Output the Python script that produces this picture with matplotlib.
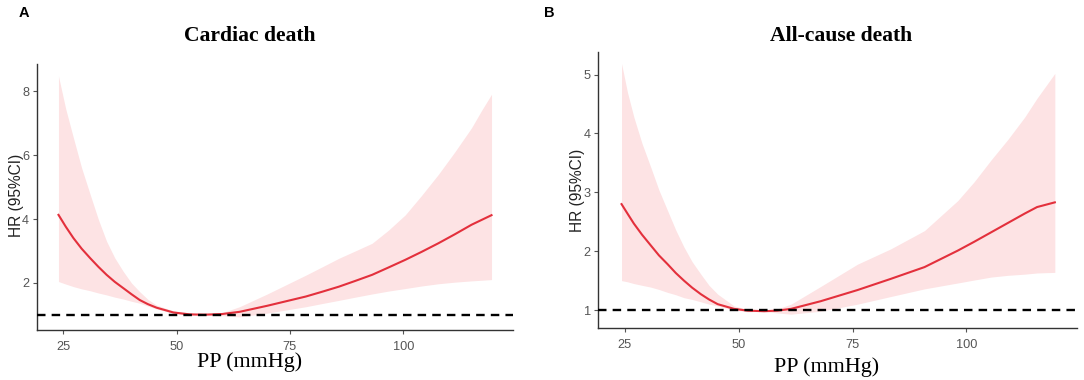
import matplotlib
matplotlib.use("Agg")
import matplotlib.pyplot as plt

# ---- Panel A: Cardiac death ----
pp_a = [24.0, 25.6, 27.3, 29.1, 31.0, 32.8, 34.6, 36.4, 38.3, 40.1, 41.9, 43.7,
        45.6, 49.3, 52.9, 56.0, 60.0, 63.9, 70.0, 78.5, 82.1, 85.8, 89.4, 93.1,
        96.7, 100.4, 104.0, 107.7, 111.3, 115.0, 117.2, 119.4]
hr_a = [4.13, 3.76, 3.40, 3.07, 2.77, 2.50, 2.25, 2.03, 1.83, 1.64, 1.46, 1.33,
        1.22, 1.07, 1.01, 1.00, 1.02, 1.09, 1.28, 1.57, 1.72, 1.88, 2.06, 2.25,
        2.48, 2.72, 2.97, 3.24, 3.52, 3.82, 3.97, 4.12]
lo_a = [2.04, 1.96, 1.88, 1.81, 1.75, 1.68, 1.62, 1.55, 1.49, 1.42, 1.36, 1.27,
        1.18, 1.04, 0.99, 1.00, 0.97, 0.93, 1.05, 1.25, 1.35, 1.45, 1.55, 1.65,
        1.74, 1.82, 1.90, 1.97, 2.02, 2.06, 2.08, 2.10]
up_a = [8.48, 7.45, 6.54, 5.60, 4.76, 3.98, 3.30, 2.78, 2.35, 1.99, 1.72, 1.48,
        1.30, 1.12, 1.03, 1.00, 1.06, 1.25, 1.65, 2.24, 2.50, 2.77, 3.00, 3.24,
        3.65, 4.13, 4.74, 5.40, 6.10, 6.86, 7.40, 7.91]

# ---- Panel B: All-cause death ----
pp_b = [24.3, 25.6, 27.0, 28.8, 30.7, 32.5, 34.4, 36.2, 38.0, 39.8, 41.7, 43.5,
        45.4, 49.0, 52.0, 55.6, 58.5, 61.5, 68.0, 76.1, 83.4, 90.8, 98.1, 101.7,
        105.4, 109.1, 112.8, 115.5, 119.4]
hr_b = [2.80, 2.64, 2.47, 2.28, 2.10, 1.93, 1.78, 1.63, 1.50, 1.38, 1.27, 1.18,
        1.10, 1.02, 0.99, 0.98, 0.99, 1.02, 1.15, 1.34, 1.53, 1.73, 2.01, 2.16,
        2.32, 2.48, 2.64, 2.75, 2.83]
lo_b = [1.50, 1.48, 1.45, 1.42, 1.39, 1.35, 1.30, 1.26, 1.21, 1.18, 1.14, 1.10,
        1.07, 1.00, 0.97, 0.98, 0.95, 0.93, 0.98, 1.10, 1.23, 1.36, 1.46, 1.51,
        1.56, 1.59, 1.61, 1.63, 1.64]
up_b = [5.19, 4.70, 4.28, 3.83, 3.43, 3.04, 2.69, 2.36, 2.07, 1.82, 1.61, 1.42,
        1.27, 1.07, 1.01, 0.98, 1.02, 1.10, 1.40, 1.78, 2.04, 2.35, 2.86, 3.18,
        3.55, 3.90, 4.28, 4.60, 5.02]

x_ticks = [25, 50, 75, 100]
yticks_a = [2, 4, 6, 8]
yticks_b = [1, 2, 3, 4, 5]
titles = ["Cardiac death", "All-cause death"]
panel_labels = ["A", "B"]
xlabel = "PP (mmHg)"
ylabel = "HR (95%CI)"

W, H = 1084, 380
fig = plt.figure(figsize=(W / 100, H / 100), dpi=100)

def frac(l, r, b, t):
    return [l / W, 1 - b / H, (r - l) / W, (b - t) / H]

ax_a = fig.add_axes(frac(36.7, 513.3, 330, 64))
ax_b = fig.add_axes(frac(598.3, 1076.7, 327.7, 51.7))

line_col = "#e3303c"
band_col = "#fde3e4"
tick_col = "#555555"

def style(ax, x, hr, lo, up, yticks, ylim):
    ax.fill_between(x, lo, up, color=band_col, lw=0, zorder=1)
    ax.plot(x, hr, color=line_col, lw=1.5, zorder=3, solid_joinstyle="round")
    ax.axhline(1, color="black", lw=1.7, ls=(0, (3.6, 2.6)), zorder=4)
    ax.set_xlim(19.2, 124.2)
    ax.set_ylim(*ylim)
    ax.set_xticks(x_ticks)
    ax.set_yticks(yticks)
    for s in ["top", "right"]:
        ax.spines[s].set_visible(False)
    for s in ["left", "bottom"]:
        ax.spines[s].set_color("#333333")
        ax.spines[s].set_linewidth(1.0)
    ax.tick_params(axis="both", colors=tick_col, labelcolor=tick_col,
                   length=3, width=0.8, labelsize=9.2)
    for lab in ax.get_xticklabels() + ax.get_yticklabels():
        lab.set_family("Liberation Sans")
    ax.tick_params(axis="x", pad=5)
    ax.tick_params(axis="y", pad=2.5)

style(ax_a, pp_a, hr_a, lo_a, up_a, yticks_a, (0.52, 8.86))
style(ax_b, pp_b, hr_b, lo_b, up_b, yticks_b, (0.70, 5.39))

# titles
fig.text(249.5 / W, 1 - 35.7 / H, titles[0], ha="center", va="center",
         family="Liberation Serif", weight="bold", fontsize=15.6)
fig.text(841 / W, 1 - 35.7 / H, titles[1], ha="center", va="center",
         family="Liberation Serif", weight="bold", fontsize=15.6)

# x labels
fig.text(249.5 / W, 1 - 362.5 / H, xlabel, ha="center", va="center",
         family="Liberation Serif", fontsize=15.8)
fig.text(827 / W, 1 - 367 / H, xlabel, ha="center", va="center",
         family="Liberation Serif", fontsize=15.8)

# y labels
fig.text(16.4 / W, 1 - 195.7 / H, ylabel, ha="center", va="center", rotation=90,
         family="Liberation Sans", fontsize=11.2, color="#222222")
fig.text(577.3 / W, 1 - 190 / H, ylabel, ha="center", va="center", rotation=90,
         family="Liberation Sans", fontsize=11.2, color="#222222")

# panel letters
fig.text(24.4 / W, 1 - 13.3 / H, panel_labels[0], ha="center", va="center",
         family="Liberation Sans", weight="bold", fontsize=10.5)
fig.text(549 / W, 1 - 13.3 / H, panel_labels[1], ha="center", va="center",
         family="Liberation Sans", weight="bold", fontsize=10.5)

fig.savefig("out.png", dpi=100, facecolor="white")
